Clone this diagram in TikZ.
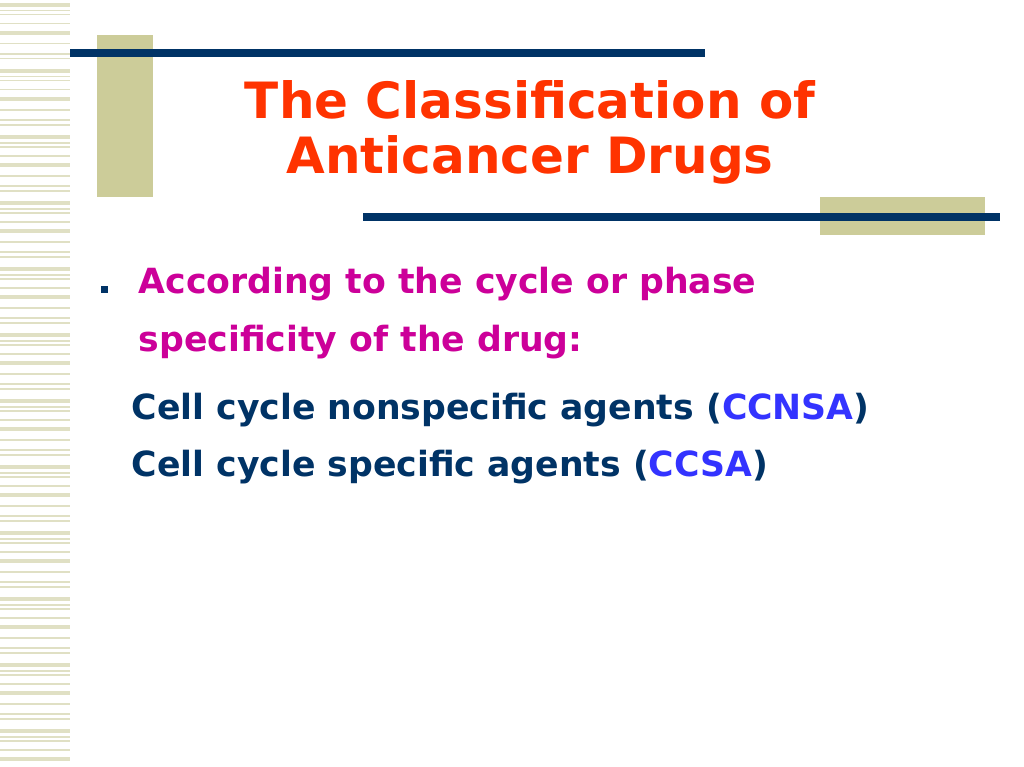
\documentclass[tikz,border=0pt]{standalone}
\usepackage{fontspec}
\setmainfont{DejaVu Sans}
\definecolor{tan}{HTML}{CCCC99}
\definecolor{stripe}{HTML}{E0E0C4}
\definecolor{navy}{HTML}{003366}
\definecolor{titlec}{HTML}{FF3300}
\definecolor{magc}{HTML}{CC0099}
\definecolor{bluec}{HTML}{3333FF}
\begin{document}
\begin{tikzpicture}[x=0.75pt,y=-0.75pt,
  title/.style={text=titlec,font=\bfseries\fontsize{37.5}{44}\selectfont},
  bul/.style={anchor=west,text=magc,font=\bfseries\fontsize{26}{30}\selectfont},
  body/.style={anchor=west,text=navy,font=\bfseries\fontsize{26}{30}\selectfont}]
\useasboundingbox (0,0) rectangle (1024,767);
\fill[white] (0,0) rectangle (1024,767);
% left stripes
\foreach \y in {0,66,...,760}{
  \fill[stripe] (0,\y+3) rectangle (70,\y+7);
  \fill[stripe] (0,\y+10) rectangle (70,\y+11.5);
  \fill[stripe] (0,\y+14) rectangle (70,\y+15.5);
  \fill[stripe] (0,\y+23) rectangle (70,\y+24.5);
  \fill[stripe] (0,\y+31) rectangle (70,\y+35);
  \fill[stripe] (0,\y+43) rectangle (70,\y+44.5);
  \fill[stripe] (0,\y+53) rectangle (70,\y+55);
  \fill[stripe] (0,\y+58) rectangle (70,\y+59.5);
}
\fill[tan] (97,35) rectangle (153,197);
\fill[navy] (70,49) rectangle (705,57);
\fill[tan] (820,197) rectangle (985,235);
\fill[navy] (363,213) rectangle (1000,221);
\node[title] (t1) at (530,100) {The Classification of};
\node[title] (t2) at (530,160) {Anticancer Drugs};
\fill[navy] (101,286) rectangle (108,293);
\node[bul] (b1) at (134,284) {According to the cycle or phase};
\node[bul] (b2) at (134,342) {specificity of the drug:};
\node[body] (c1) at (127,410) {Cell cycle nonspecific agents (\textcolor{bluec}{CCNSA})};
\node[body] (c2) at (127,467) {Cell cycle specific agents (\textcolor{bluec}{CCSA})};
\end{tikzpicture}
\end{document}
